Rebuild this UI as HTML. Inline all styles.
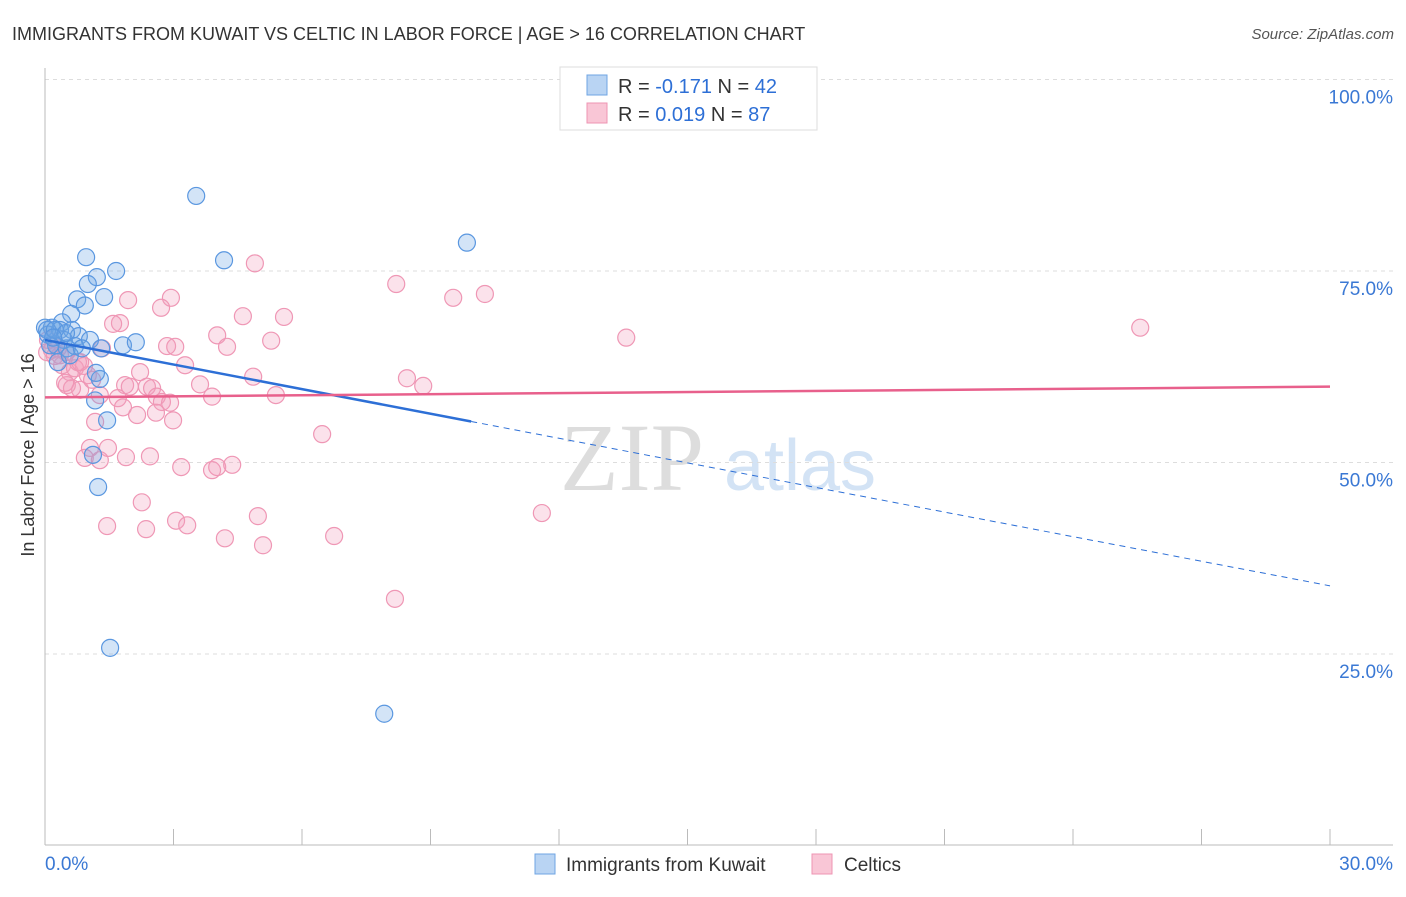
<!DOCTYPE html>
<html><head><meta charset="utf-8"><style>
body{margin:0;background:#fff;font-family:"Liberation Sans",sans-serif}
</style></head><body>
<svg id="chart" width="1406" height="892" xmlns="http://www.w3.org/2000/svg" font-family="Liberation Sans, sans-serif">
<text x="12" y="40" font-size="18" fill="#333">IMMIGRANTS FROM KUWAIT VS CELTIC IN LABOR FORCE | AGE &gt; 16 CORRELATION CHART</text>
<text x="1394" y="39" font-size="15" fill="#555" text-anchor="end" font-style="italic">Source: ZipAtlas.com</text>
<g>
<text x="632" y="490" font-size="96" fill="#ddd" text-anchor="middle" font-family="Liberation Serif, serif">ZIP</text>
<text x="800" y="490" font-size="72" fill="#d3e3f5" text-anchor="middle">atlas</text>
</g>
<g id="grid"></g>
<g id="axes"></g>
<g id="marks"></g>
<text transform="translate(34,455) rotate(-90)" font-size="18" fill="#333" text-anchor="middle">In Labor Force | Age &gt; 16</text>
<g>
<rect x="560" y="67" width="257" height="63" fill="#fff" stroke="#ddd"/>
<rect x="587" y="75" width="20" height="20" fill="#b9d4f3" stroke="#6fa5e3"/>
<text x="618" y="93" font-size="20" fill="#333">R = <tspan fill="#2d6fd6">-0.171</tspan>   N = <tspan fill="#2d6fd6">42</tspan></text>
<rect x="587" y="103" width="20" height="20" fill="#f9c6d6" stroke="#ee94b3"/>
<text x="618" y="121" font-size="20" fill="#333">R = <tspan fill="#2d6fd6">0.019</tspan>    N = <tspan fill="#2d6fd6">87</tspan></text>
</g>
<g>
<rect x="535" y="854" width="20" height="20" fill="#b9d4f3" stroke="#6fa5e3"/>
<text x="566" y="871" font-size="19" fill="#333">Immigrants from Kuwait</text>
<rect x="812" y="854" width="20" height="20" fill="#f9c6d6" stroke="#ee94b3"/>
<text x="844" y="871" font-size="19" fill="#333">Celtics</text>
</g>
</svg>
<script>
const xTicks=[0,3,6,9,12,15,18,21,24,27,30];
const yTicks=[25,50,75,100];
const yTickLabels=["25.0%","50.0%","75.0%","100.0%"];
const xEndLabels=["0.0%","30.0%"];
const blueX=[3.53,9.85,4.18,0.96,1.66,1.21,1.00,1.38,0.75,0.93,0.61,0.40,0.16,0.0,0.35,0.63,0.79,1.05,0.44,0.26,0.51,1.82,2.12,1.31,1.28,1.19,1.17,1.45,1.12,1.24,1.52,7.92,0.07,0.12,0.30,0.05,0.23,0.49,0.70,0.58,0.19,0.86];
const blueY=[84.8,78.7,76.4,76.8,75.0,74.2,73.3,71.6,71.3,70.5,69.4,68.3,67.6,67.6,67.3,67.3,66.5,66.0,66.0,65.3,64.9,65.3,65.7,64.9,60.9,61.7,58.1,55.5,51.0,46.8,25.8,17.2,66.7,65.3,63.1,67.3,67.3,66.9,65.2,64.0,66.3,64.9];
const pinkX=[4.90,1.94,2.94,2.71,4.62,5.58,1.75,1.59,4.02,5.28,4.25,2.85,3.04,1.33,3.27,4.86,2.22,3.62,1.87,1.98,2.38,2.50,3.90,5.39,2.61,2.73,2.92,1.28,0.82,0.51,0.63,1.70,1.82,2.15,2.59,2.99,1.17,6.47,1.05,1.47,0.93,1.28,1.89,2.45,3.18,3.90,4.02,4.37,2.26,4.97,1.45,2.36,3.06,3.32,4.20,5.09,6.75,8.20,9.53,10.27,13.57,25.57,8.45,8.83,11.60,8.17,0.07,0.16,0.23,0.35,0.40,0.58,0.70,0.77,0.47,0.91,1.00,0.05,0.30,0.82,1.10,0.49];
const pinkY=[76.0,71.2,71.5,70.2,69.1,69.0,68.2,68.1,66.6,65.9,65.1,65.2,65.1,64.9,62.7,61.2,61.8,60.2,60.1,59.9,59.9,59.7,58.6,58.8,58.6,57.9,57.8,58.8,59.5,60.1,59.7,58.4,57.2,56.2,56.5,55.5,55.3,53.7,51.9,51.9,50.6,50.3,50.7,50.8,49.4,49.0,49.4,49.7,44.8,43.0,41.7,41.3,42.4,41.8,40.1,39.2,40.4,73.3,71.5,72.0,66.3,67.6,61.0,60.0,43.4,32.2,66.0,64.7,63.9,64.0,62.7,61.8,62.3,63.1,60.4,62.6,61.4,64.4,64.9,63.1,60.8,64.4];
const blueTrend=[66.0,33.9]; // value at x=0 and x=30
const blueSolidEnd=9.95;
const pinkTrend=[58.5,59.9];
const NS="http://www.w3.org/2000/svg";
const X=v=>45+v*(1285/30);
const Y=v=>845.5-v*7.66;
function mk(tag,attrs,parent){const e=document.createElementNS(NS,tag);for(const k in attrs)e.setAttribute(k,attrs[k]);parent.appendChild(e);return e;}
const grid=document.getElementById('grid'),axes=document.getElementById('axes'),marks=document.getElementById('marks');
yTicks.forEach((t,i)=>{
 const l=mk('line',{x1:45,x2:1393,y1:Y(t),y2:Y(t),stroke:'#ddd','stroke-dasharray':'4,4'},grid);
 
 
 const tx=mk('text',{x:1393,y:Y(t)+24,'font-size':19,fill:'#3a78d4','text-anchor':'end'},axes);
 tx.textContent=yTickLabels[i];
 
 
});
let a=mk('line',{x1:45,x2:45,y1:68,y2:845,stroke:'#bbb'},axes);


a=mk('line',{x1:45,x2:1393,y1:845,y2:845,stroke:'#bbb'},axes);


xTicks.forEach(t=>{const l=mk('line',{x1:X(t),x2:X(t),y1:829,y2:845,stroke:'#bbb'},axes);
 
 });
[[0,'start'],[30,'end']].forEach((p,i)=>{const t=mk('text',{x:i?1393:45,y:870,'font-size':19,fill:'#3a78d4','text-anchor':p[1]},axes);t.textContent=xEndLabels[i];
 
 });
pinkX.forEach((x,i)=>{const c=mk('circle',{cx:X(x),cy:Y(pinkY[i]),r:8.5,fill:'rgba(243,160,190,0.3)',stroke:'#ef97b5','stroke-width':1.2},marks);
 
 });
blueX.forEach((x,i)=>{const c=mk('circle',{cx:X(x),cy:Y(blueY[i]),r:8.5,fill:'rgba(110,165,230,0.3)',stroke:'#5a97e0','stroke-width':1.2},marks);
 
 });
const bAt=v=>blueTrend[0]+(blueTrend[1]-blueTrend[0])*v/30;
let t=mk('line',{x1:X(0),y1:Y(bAt(0)),x2:X(blueSolidEnd),y2:Y(bAt(blueSolidEnd)),stroke:'#2d6fd6','stroke-width':2.5},marks);


t=mk('line',{x1:X(blueSolidEnd),y1:Y(bAt(blueSolidEnd)),x2:X(30),y2:Y(bAt(30)),stroke:'#2d6fd6','stroke-width':1,'stroke-dasharray':'6,5'},marks);


t=mk('line',{x1:X(0),y1:Y(pinkTrend[0]),x2:X(30),y2:Y(pinkTrend[1]),stroke:'#e8608c','stroke-width':2.5},marks);


</script>
</body></html>
